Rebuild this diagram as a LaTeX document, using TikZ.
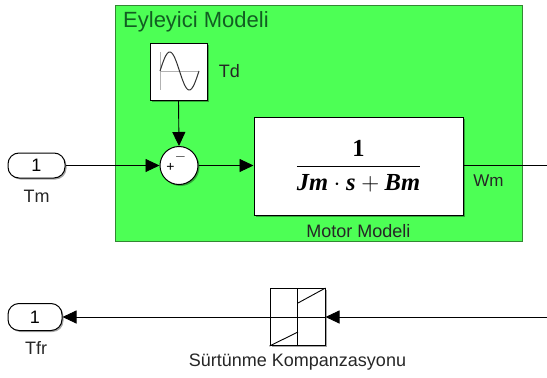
\documentclass[tikz,border=0pt]{standalone}
\usepackage{fontspec}
\usepackage{amsmath}
\setmainfont{Liberation Sans}
\newfontfamily\fracfont[ItalicFont={Liberation Serif Bold Italic}]{Liberation Serif Bold}
\usetikzlibrary{arrows.meta,shadows}
\definecolor{groupgreen}{HTML}{4DFF55}
\definecolor{grouptext}{HTML}{125E22}
\newcommand{\fracterm}[1]{\mbox{\fracfont\itshape #1}}
\tikzset{
  block/.style={draw=black,fill=white,line width=1pt,inner sep=0pt,drop shadow={shadow xshift=1.5pt,shadow yshift=-1.5pt,opacity=0.35,fill=black}},
  wire/.style={line width=0.9pt,-{Triangle[length=14pt,width=13pt]}},
  label/.style={inner sep=0pt,font=\fontsize{18}{20}\selectfont,text=black!85}
}
\begin{document}
\begin{tikzpicture}[x=1pt,y=-1pt]
        \useasboundingbox (0,0) rectangle (547,378);

        % Eyleyici group
        \node[draw=black!45!green!60!gray,fill=groupgreen,line width=1pt,minimum width=407pt,minimum height=236pt,inner sep=0pt] (group) at (318.5,123.5) {};
        \node[inner sep=0pt,anchor=base west,text=grouptext,font=\fontsize{22}{24}\selectfont] (grouptitle) at (123,27) {Eyleyici Modeli};

        % Blocks
        \node[block,rounded corners=11pt,minimum width=57pt,minimum height=25pt,font=\fontsize{18}{20}\selectfont] (tm) at (36.5,165.5) {1};
        \node[block,minimum width=57pt,minimum height=57pt] (td) at (178.5,71.5) {};
        \node[block,circle,minimum size=38pt] (sum) at (179,165.5) {};
        \node[block,minimum width=209pt,minimum height=98pt,font=\fontsize{24.5}{28}\selectfont] (motor) at (358.5,166) {$\dfrac{\mbox{\fracfont 1}}{\fracterm{Jm}\cdot\fracterm{s}+\fracterm{Bm}}$};
        \node[block,rounded corners=11pt,minimum width=54pt,minimum height=27pt,font=\fontsize{18}{20}\selectfont] (tfr) at (35,317) {1};
        \node[block,minimum width=55pt,minimum height=57pt] (sat) at (297.5,317) {};

        % Sum signs
        \node[inner sep=0pt,font=\fontsize{14}{14}\selectfont] (plus) at (170.5,167) {+};
        \node[inner sep=0pt,font=\fontsize{14}{14}\selectfont] (minus) at (180.5,157) {$-$};

        % Sine icon
        \draw[gray!60,line width=1pt] (160,52) -- (160,90) (160,71) -- (198,71);
        \draw[black!80,line width=1pt,domain=0:360,samples=60,smooth] plot({160+\x*39/360},{71-19*sin(\x)});

        % Dead zone icon
        \draw[line width=1pt] (sat.west) -- (sat.east);
        \draw[line width=0.9pt] (sat.north) -- (sat.south);
        \draw[line width=0.9pt] (sat.south west) -- (298,332);
        \draw[line width=0.9pt] (298,303) -- (sat.north east);

        % Labels
        \node[label] (tmlabel) at (36.5,196) {Tm};
        \node[label] (tdlabel) at (229.5,71.5) {Td};
        \node[label,font=\fontsize{17}{20}\selectfont] (wmlabel) at (488.5,181) {Wm};
        \node[label] (motorlabel) at (358.5,231) {Motor Modeli};
        \node[label] (tfrlabel) at (36,348) {Tfr};
        \node[label] (satlabel) at (297.5,362) {Sürtünme Kompanzasyonu};

        % Free ends
        \coordinate (wmend) at (547,165);
        \coordinate (fricin) at (547,317);

        % Wires
        \draw[wire] (tm.east) -- (sum.west);
        \draw[wire] (td.south) -- (sum.north);
        \draw[wire] (sum.east) -- (sum.east -| motor.west);
        \draw[line width=0.9pt] (motor.east |- wmend) -- (wmend);
        \draw[wire] (fricin) -- (sat.east);
        \draw[wire] (sat.west) -- (tfr.east);
\end{tikzpicture}
\end{document}
